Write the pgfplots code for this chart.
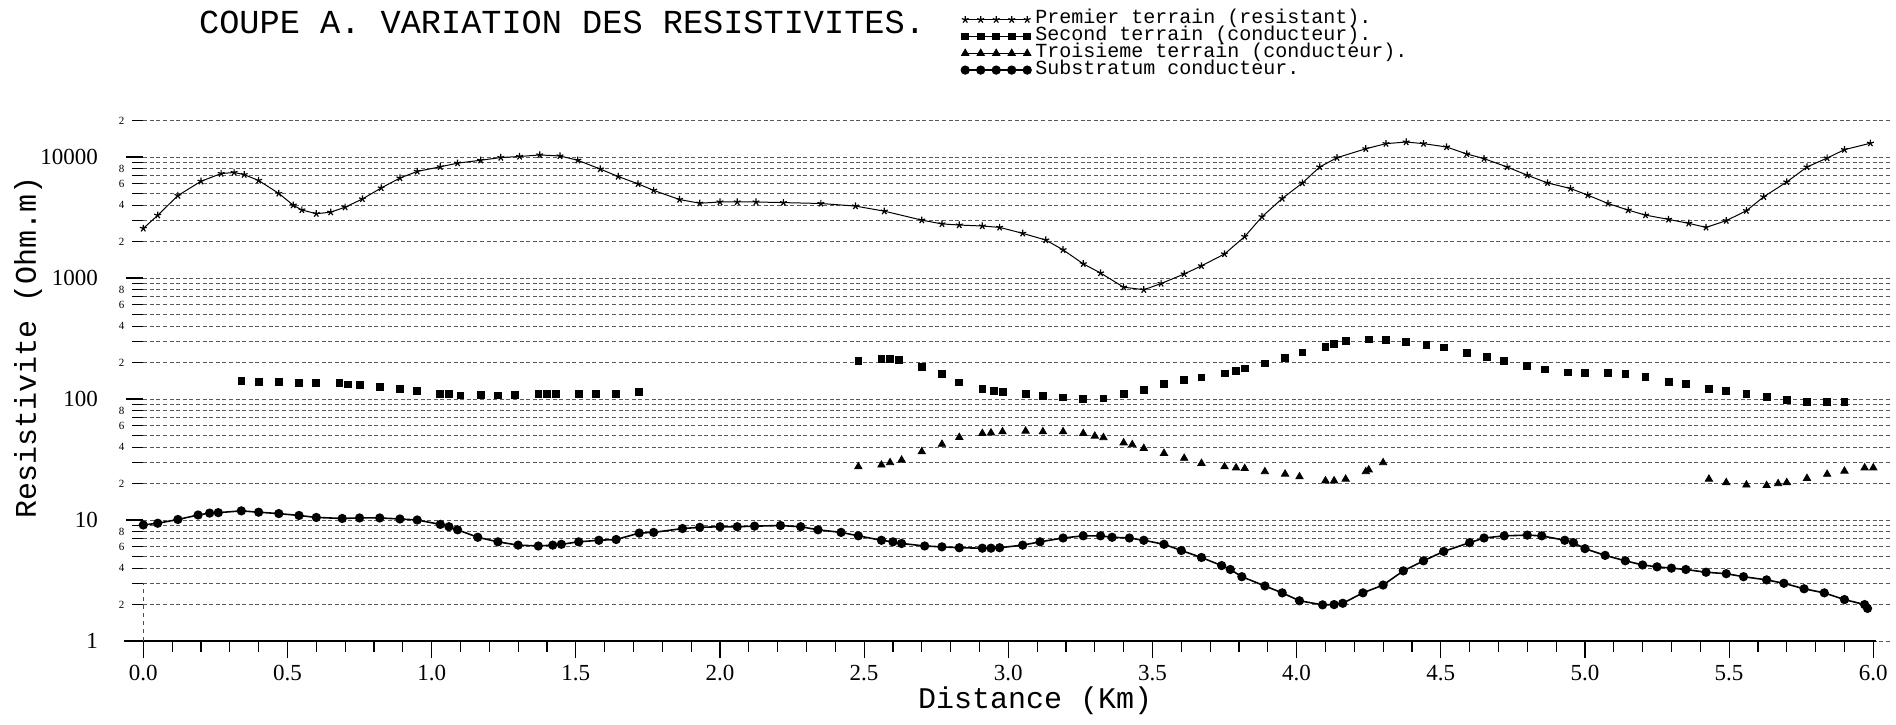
\documentclass[border=0pt]{standalone}
\usepackage{fontspec}
\setmainfont{Liberation Serif}
\setmonofont{Liberation Mono}
\newfontfamily\numfont{Liberation Serif}
\usepackage{pgfplots}
\pgfplotsset{compat=1.18}
\usepackage{pgfplotstable}

\pgfplotstableread{
x y
0.00 2570
0.05 3300
0.12 4800
0.20 6300
0.27 7300
0.315 7450
0.35 7150
0.40 6400
0.47 5000
0.52 4000
0.55 3650
0.60 3400
0.65 3500
0.70 3850
0.76 4500
0.825 5550
0.89 6700
0.95 7600
1.03 8300
1.09 8900
1.17 9400
1.24 9900
1.305 10100
1.375 10400
1.445 10200
1.507 9400
1.585 7950
1.647 6900
1.716 6000
1.77 5300
1.86 4450
1.93 4150
2.00 4250
2.06 4250
2.125 4250
2.22 4200
2.35 4130
2.47 3930
2.57 3570
2.70 3010
2.77 2800
2.83 2740
2.91 2690
2.97 2620
3.05 2340
3.13 2060
3.19 1710
3.26 1310
3.32 1100
3.40 840
3.47 800
3.53 900
3.61 1080
3.67 1260
3.75 1580
3.82 2200
3.88 3210
3.95 4540
4.02 6100
4.08 8270
4.14 9870
4.24 11700
4.31 12900
4.38 13300
4.44 12900
4.52 12100
4.59 10600
4.65 9700
4.73 8270
4.80 7070
4.87 6110
4.95 5490
5.01 4840
5.08 4130
5.15 3640
5.21 3310
5.29 3050
5.36 2830
5.42 2620
5.49 2980
5.56 3600
5.62 4690
5.70 6220
5.77 8270
5.84 9800
5.90 11500
5.99 13000
}\premier

\pgfplotstableread{
x y
0.34 141
0.40 139
0.47 139
0.54 136
0.60 136
0.68 135
0.71 132
0.75 131
0.82 125
0.89 121
0.95 116
1.03 111
1.06 110
1.10 107
1.17 108
1.23 107
1.29 108
1.37 110
1.40 110
1.43 110
1.51 110
1.57 110
1.64 111
1.72 115
}\secondA

\pgfplotstableread{
x y
2.48 207
2.56 213
2.59 213
2.62 210
2.70 183
2.77 161
2.83 137
2.91 122
2.95 117
2.98 114
3.06 110
3.12 106
3.19 103
3.26 100
3.33 101
3.40 111
3.47 119
3.54 133
3.61 144
3.67 151
3.75 163
3.79 170
3.82 179
3.89 197
3.96 217
4.02 243
4.10 271
4.13 285
4.17 301
4.25 311
4.31 309
4.38 298
4.45 279
4.51 267
4.59 241
4.66 224
4.72 206
4.80 188
4.86 176
4.94 166
5.00 165
5.08 165
5.14 161
5.21 153
5.29 139
5.35 133
5.43 122
5.49 116
5.56 111
5.63 104
5.70 98
5.77 95
5.84 95
5.90 95
}\secondB

\pgfplotstableread{
x y
2.48 27.6
2.56 28.5
2.59 29.8
2.63 31.3
2.70 36.7
2.77 42.3
2.83 48.2
2.91 52
2.94 52.5
2.98 53.7
3.06 54.4
3.12 53.7
3.19 53.7
3.26 52
3.30 49.4
3.33 48
3.40 43.5
3.43 42
3.47 39.1
3.54 35.6
3.61 32.4
3.67 29.4
3.75 27.6
3.79 27
3.82 26.7
3.89 25.1
3.96 24
4.01 22.8
4.10 21.1
4.13 21.1
4.17 21.8
4.24 25.1
4.25 26
4.30 29.8
}\troisA

\pgfplotstableread{
x y
5.43 21.8
5.49 20.4
5.56 19.5
5.63 19.3
5.67 20
5.70 20.4
5.77 22.1
5.84 23.9
5.90 25.4
5.97 27
6.00 27
}\troisB

\pgfplotstableread{
x y
0.00 9.1
0.05 9.4
0.12 10.1
0.19 11.0
0.23 11.4
0.26 11.5
0.34 11.9
0.40 11.6
0.47 11.3
0.54 10.9
0.60 10.5
0.69 10.3
0.75 10.4
0.82 10.4
0.89 10.2
0.95 10.0
1.03 9.2
1.06 8.8
1.09 8.3
1.16 7.2
1.23 6.6
1.30 6.2
1.37 6.1
1.42 6.2
1.45 6.3
1.51 6.6
1.58 6.8
1.64 6.9
1.72 7.8
1.77 7.9
1.87 8.5
1.93 8.7
2.00 8.8
2.06 8.8
2.12 8.9
2.21 9.0
2.28 8.8
2.34 8.3
2.42 7.9
2.48 7.4
2.56 6.8
2.60 6.6
2.63 6.4
2.71 6.1
2.77 6.0
2.83 5.9
2.91 5.85
2.94 5.85
2.97 5.9
3.05 6.2
3.11 6.6
3.19 7.1
3.26 7.4
3.32 7.4
3.36 7.2
3.42 7.1
3.47 6.8
3.54 6.3
3.60 5.6
3.67 4.9
3.74 4.2
3.77 3.9
3.81 3.4
3.89 2.85
3.95 2.5
4.01 2.15
4.09 1.99
4.13 2.0
4.16 2.05
4.23 2.5
4.30 2.9
4.37 3.8
4.44 4.6
4.51 5.5
4.60 6.5
4.65 7.1
4.72 7.4
4.80 7.5
4.85 7.4
4.93 6.8
4.96 6.5
5.00 5.8
5.07 5.1
5.14 4.6
5.20 4.25
5.25 4.1
5.30 4.0
5.35 3.9
5.42 3.7
5.49 3.6
5.55 3.4
5.63 3.2
5.69 3.0
5.76 2.7
5.83 2.5
5.90 2.2
5.97 2.0
5.98 1.86
}\substratum

\begin{document}
\begin{tikzpicture}
\useasboundingbox (-71.65pt,-41.5pt) rectangle (876.35pt,320.5pt);
\begin{axis}[
  at={(0pt,0pt)}, anchor=south west,
  scale only axis, width=874.35pt, height=260.2pt,
  xmin=0, xmax=6.065,
  ymode=log, ymin=1, ymax=20000,
  clip=false,
  axis line style={draw=none},
  tick align=outside, tick pos=left,
  tick style={black, line width=0.6pt},
  major tick length=8.5pt, minor tick length=5.5pt,
  xtick={0,0.5,1,1.5,2,2.5,3,3.5,4,4.5,5,5.5,6},
  xticklabels={0.0,0.5,1.0,1.5,2.0,2.5,3.0,3.5,4.0,4.5,5.0,5.5,6.0},
  minor x tick num=4,
  xticklabel style={font=\fontsize{11.5}{11.5}\selectfont\numfont},
  ytick={1,10,100,1000,10000},
  yticklabels={1,10,100,1000,10000},
  yticklabel style={font=\fontsize{11.5}{11.5}\selectfont\numfont, anchor=east, inner sep=0pt, xshift=-14pt},
  minor ytick={2,3,4,5,6,7,8,9,20,30,40,50,60,70,80,90,200,300,400,500,600,700,800,900,2000,3000,4000,5000,6000,7000,8000,9000,20000},
  ymajorgrids, yminorgrids,
  major grid style={black!65, line width=0.5pt, dash pattern=on 2pt off 1.3pt},
  minor grid style={black!65, line width=0.5pt, dash pattern=on 2pt off 1.3pt},
  extra y ticks={2,4,6,8,20,40,60,80,200,400,600,800,2000,4000,6000,8000,20000},
  extra y tick labels={2,4,6,8,2,4,6,8,2,4,6,8,2,4,6,8,2},
  extra y tick style={grid=none, major tick length=0pt,
    yticklabel style={font=\fontsize{5.5}{5.5}\selectfont\numfont, xshift=4.8pt}},
  xlabel={Distance (Km)},
  xlabel style={at={(axis description cs:0.510,-0.1153)}, anchor=center, font=\fontsize{15}{15}\selectfont\ttfamily},
  ylabel={Resistivite (Ohm.m)},
  ylabel style={at={(axis description cs:-0.0659,0.564)}, anchor=center, font=\fontsize{15}{15}\selectfont\ttfamily},
  legend style={at={(axis description cs:0.4676,1.2108)}, anchor=north west, draw=none, fill=none,
    inner sep=0pt, font=\fontsize{10}{10}\selectfont\ttfamily, cells={anchor=west},
    row sep=0pt, column sep=2.2pt, nodes={inner sep=0pt, text height=6.2pt, text depth=2.2pt}},
  legend image code/.code={\draw[#1, mark repeat=1, mark phase=1] plot coordinates {(0pt,0pt) (7.75pt,0pt) (15.5pt,0pt) (23.25pt,0pt) (31pt,0pt)};},
]
\addplot[black, line width=0.5pt, mark=star, mark size=1.8pt, mark options={line width=0.6pt}] table {\premier};
\addlegendentry{Premier terrain (resistant).}
\addplot[draw=none, mark=square*, mark size=1.7pt, mark options={fill=black, draw=black}] table {\secondA};
\addlegendentry{Second terrain (conducteur).}
\addplot[draw=none, mark=triangle*, mark size=2.1pt, mark options={fill=black, draw=black}] table {\troisA};
\addlegendentry{Troisieme terrain (conducteur).}
\addplot[black, line width=0.8pt, mark=*, mark size=1.9pt, mark options={fill=black}] table {\substratum};
\addlegendentry{Substratum conducteur.}
\addplot[forget plot, draw=none, mark=square*, mark size=1.7pt, mark options={fill=black, draw=black}] table {\secondB};
\addplot[forget plot, draw=none, mark=triangle*, mark size=2.1pt, mark options={fill=black, draw=black}] table {\troisB};
\draw[black, line width=0.9pt] (axis cs:-0.066,1) -- (axis cs:6.01,1);
\draw[black!70, line width=0.5pt, dash pattern=on 2pt off 2pt] (axis cs:0,1) -- (axis cs:0,3);
\node[font=\fontsize{16.8}{16.8}\selectfont\ttfamily] at (axis description cs:0.2395,1.1895) {COUPE A. VARIATION DES RESISTIVITES.};
\end{axis}
\end{tikzpicture}
\end{document}
